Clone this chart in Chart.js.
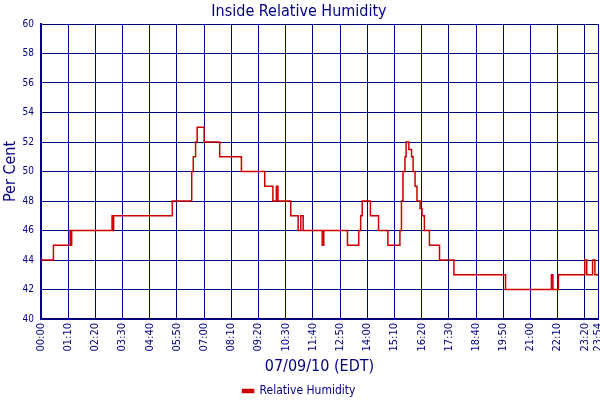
<!DOCTYPE html>
<html><head><meta charset="utf-8">
<script src="https://cdn.jsdelivr.net/npm/chart.js@4/dist/chart.umd.min.js"></script>
<style>html,body{margin:0;padding:0;background:#fff}#wrap{width:600px;height:400px}</style>
</head><body><div id="wrap"><canvas id="c" width="600" height="400"></canvas></div>
<script>
const chartTitle = 'Inside Relative Humidity';
const xAxisTitle = '07/09/10 (EDT)';
const yAxisTitle = 'Per Cent';
const seriesName = 'Relative Humidity';
// minutes after midnight at which the reading changes
const timeMinutes = [0,32,75,77,79,183,185,187,338,388,392,398,402,420,460,516,576,597,606,610,643,662,669,675,724,728,789,818,823,827,848,869,893,924,928,932,937,940,947,954,958,963,968,976,981,987,1000,1026,1063,1196,1314,1318,1332,1400,1405,1420,1426,1434];
const humidity = [44,45,46,45,46,47,46,47,48,50,51,52,53,52,51,50,49,48,49,48,47,46,47,46,45,46,45,46,47,48,47,46,45,46,48,50,51,52,51.5,51,50,49,48,47.5,47,46,45,44,43,42,43,42,43,44,43,44,43,43];
const xTickMinutes = [0,70,140,210,280,350,420,490,560,630,700,770,840,910,980,1050,1120,1190,1260,1330,1400,1434];
const yTicks = [40,42,44,46,48,50,52,54,56,58,60];

const navy = '#000080';
const red = '#cc0000';
const fam = "'DejaVu Sans Condensed', 'DejaVu Sans', sans-serif";
const PAD_BOTTOM = -7;

function fmt(m){ const h = Math.floor(m/60), mm = Math.round(m%60); return String(h).padStart(2,'0') + ':' + String(mm).padStart(2,'0'); }

new Chart(document.getElementById('c'), {
  type: 'line',
  data: {
    datasets: [{
      label: seriesName,
      data: timeMinutes.map((t, i) => ({x: t, y: humidity[i]})),
      borderColor: red,
      backgroundColor: red,
      borderWidth: 1.5,
      pointRadius: 0,
      stepped: true,
      fill: false
    }]
  },
  options: {
    responsive: false,
    animation: false,
    devicePixelRatio: 1,
    layout: {padding: {left: 0, right: 2, top: 0, bottom: PAD_BOTTOM}},
    plugins: {
      title: {display: true, text: chartTitle, color: navy,
        font: {family: fam, size: 16, weight: 'normal', lineHeight: '19px'},
        padding: {top: 2, bottom: 3}},
      legend: {display: true, position: 'bottom',
        labels: {color: navy, font: {family: fam, size: 12}, boxWidth: 11, boxHeight: 3, padding: 4}},
      tooltip: {enabled: false}
    },
    scales: {
      x: {
        type: 'linear', min: 0, max: 1434,
        afterBuildTicks: s => { s.ticks = xTickMinutes.map(v => ({value: v})); },
        ticks: {autoSkip: false, minRotation: 90, maxRotation: 90, padding: 4, color: navy,
          font: {family: fam, size: 11}, callback: v => fmt(v)},
        grid: {color: navy, lineWidth: 1, drawTicks: false},
        border: {color: navy, width: 2},
        title: {display: true, text: xAxisTitle, color: navy, font: {family: fam, size: 16}, padding: {top: 0, bottom: 5}},
        afterFit: s => { s.paddingLeft = 0; s.paddingRight = 0; s.height = 400 - PAD_BOTTOM - 319 - s.chart.legend.height; }
      },
      y: {
        min: 40, max: 60,
        afterBuildTicks: s => { s.ticks = yTicks.map(v => ({value: v})); },
        ticks: {padding: 7, color: navy, font: {family: fam, size: 10}},
        grid: {color: navy, lineWidth: 1, drawTicks: false},
        border: {color: navy, width: 2},
        title: {display: true, text: yAxisTitle, color: navy, font: {family: fam, size: 16}, padding: {top: 1, bottom: 0}},
        afterFit: s => { s.width = 41; s.paddingTop = 0; s.paddingBottom = 0; }
      }
    }
  }
});
</script></body></html>
